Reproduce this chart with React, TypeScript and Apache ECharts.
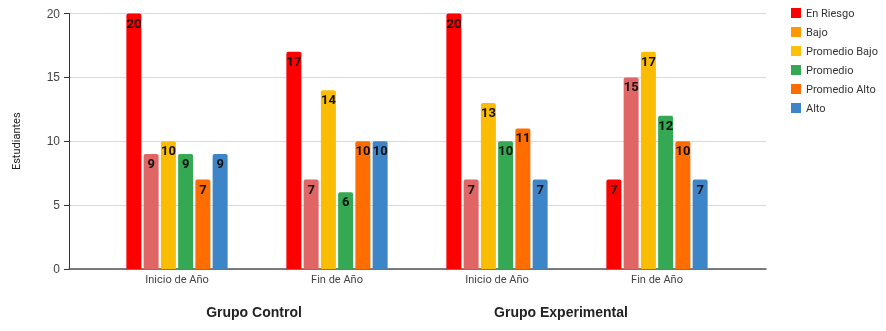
import React, { useEffect, useRef } from "react";
import * as echarts from "echarts";

const categories = ["Inicio de Año", "Fin de Año", "Inicio de Año", "Fin de Año"];
const seriesNames = ["En Riesgo", "Bajo", "Promedio Bajo", "Promedio", "Promedio Alto", "Alto"];
const enRiesgo = [20, 17, 20, 7];
const bajo = [9, 7, 7, 15];
const promedioBajo = [10, 14, 13, 17];
const promedio = [9, 6, 10, 12];
const promedioAlto = [7, 10, 11, 10];
const alto = [9, 10, 7, 7];
const groupLabels = ["Grupo Control", "Grupo Experimental"];
const yTicks = [0, 5, 10, 15, 20];

const barColors = ["#ff0000", "#e06666", "#fbbc04", "#34a853", "#ff6d01", "#3d85c6"];
const legendColors = ["#ff0000", "#ff9900", "#ffc107", "#34a853", "#ff6d01", "#3d85c6"];

export default function App() {
  const ref = useRef<HTMLDivElement>(null);
  useEffect(() => {
    if (!ref.current) return;
    const chart = echarts.init(ref.current, null, { renderer: "svg" });
    const values = [enRiesgo, bajo, promedioBajo, promedio, promedioAlto, alto];
    const series = seriesNames.map((name, i) => ({
      name,
      type: "bar",
      xAxisIndex: 1,
      yAxisIndex: 1,
      data: values[i],
      barWidth: 15,
      barGap: "15%",
      itemStyle: { color: barColors[i], borderRadius: [2, 2, 0, 0] },
      label: {
        show: true,
        position: "insideTop",
        distance: 3,
        color: "#111",
        fontWeight: "bold",
        fontSize: 13,
        fontFamily: "Roboto",
      },
    }));
    chart.setOption({
      animation: false,
      legend: {
        orient: "vertical",
        left: 786,
        top: 1,
        itemWidth: 10,
        itemHeight: 10,
        itemGap: 5,
        icon: "rect",
        textStyle: { fontSize: 11, color: "#333", fontFamily: "Roboto", lineHeight: 14 },
        data: seriesNames.map((n, i) => ({ name: n, itemStyle: { color: legendColors[i] } })),
      },
      grid: [
        { left: 69, right: 120, top: 13.5, bottom: 62 },
        { left: 97, right: 149, top: 13.5, bottom: 62 },
      ],
      xAxis: [
        {
          gridIndex: 0,
          type: "value",
          min: 0,
          max: 1,
          axisLine: { show: true, lineStyle: { color: "#555", width: 1.5 } },
          axisTick: { show: false },
          axisLabel: { show: false },
          splitLine: { show: false },
        },
        {
          gridIndex: 1,
          type: "category",
          data: categories,
          axisLine: { show: false },
          axisTick: { show: false },
          axisLabel: { fontSize: 11, color: "#444", fontFamily: "Roboto", margin: 5 },
        },
      ],
      yAxis: [
        {
          gridIndex: 0,
          type: "value",
          min: yTicks[0],
          max: yTicks[yTicks.length - 1],
          interval: 5,
          name: "Estudiantes",
          nameLocation: "middle",
          nameGap: 47,
          nameRotate: 90,
          nameTextStyle: { fontSize: 11, color: "#222", fontFamily: "Roboto" },
          axisLine: { show: true, lineStyle: { color: "#333", width: 1 } },
          axisTick: { show: true, length: 5, lineStyle: { color: "#333" } },
          axisLabel: { fontSize: 12, color: "#444", fontFamily: "Liberation Sans", margin: 9 },
          splitLine: { show: true, lineStyle: { color: "#d9d9d9", width: 1 } },
        },
        {
          gridIndex: 1,
          type: "value",
          min: yTicks[0],
          max: yTicks[yTicks.length - 1],
          interval: 5,
          show: false,
          splitLine: { show: false },
        },
      ],
      graphic: [
        {
          type: "text",
          x: 254,
          y: 312,
          style: {
            text: groupLabels[0],
            font: "bold 14px 'Liberation Sans'",
            fill: "#222",
            align: "center",
            verticalAlign: "middle",
          },
        },
        {
          type: "text",
          x: 561,
          y: 312,
          style: {
            text: groupLabels[1],
            font: "bold 14px 'Liberation Sans'",
            fill: "#222",
            align: "center",
            verticalAlign: "middle",
          },
        },
      ],
      series,
    });
    return () => chart.dispose();
  }, []);
  return <div ref={ref} style={{ position: "fixed", left: 0, top: 0, width: 886, height: 331 }} />;
}
